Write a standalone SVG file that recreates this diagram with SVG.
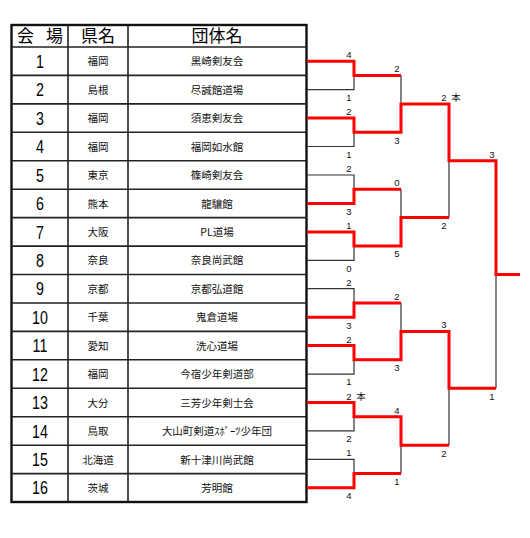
<svg xmlns="http://www.w3.org/2000/svg" width="530" height="538" viewBox="0 0 530 538">
<style>
.bg{fill:#ffffff}
.grid{stroke:#222;stroke-width:1.6;fill:none}
.outer{stroke:#111;stroke-width:2.4;fill:none}
.hd{font-family:"Noto Sans CJK JP","Noto Sans CJK SC",sans-serif;font-size:17px;text-anchor:middle;fill:#000}
.num{font-family:"Liberation Sans",Arial,sans-serif;font-size:19px;text-anchor:middle;fill:#000}
.cj{font-family:"Noto Sans CJK JP","Noto Sans CJK SC",sans-serif;font-size:10.5px;text-anchor:middle;fill:#111}
.sc{font-family:"Liberation Sans","Noto Sans CJK JP",sans-serif;font-size:9.5px;text-anchor:middle;fill:#111}
.lose{stroke:#333;stroke-width:1.2;fill:none}
.win{stroke:#ff0000;stroke-width:3;fill:none;stroke-linejoin:miter}
</style>
<rect class="bg" x="0" y="0" width="530" height="538"/>
<g id="table">
<rect class="outer" x="11.5" y="25" width="295" height="477"/>
<path class="grid" d="M68,25V502M128,25V502"/>
<path class="grid" d="M11.5,47H306.5" stroke-width="2"/>
<path class="grid" d="M11.5,75.4H306.5M11.5,103.9H306.5M11.5,132.3H306.5M11.5,160.8H306.5M11.5,189.2H306.5M11.5,217.6H306.5M11.5,246.1H306.5M11.5,274.5H306.5M11.5,303H306.5M11.5,331.4H306.5M11.5,359.8H306.5M11.5,388.3H306.5M11.5,416.7H306.5M11.5,445.2H306.5M11.5,473.6H306.5"/>
</g>
<g id="header">
<text class="hd" x="40" y="42" textLength="46" lengthAdjust="spacing">会　場</text>
<text class="hd" x="98" y="42">県名</text>
<text class="hd" x="217" y="42">団体名</text>
</g>
<g id="row1"><text class="num" transform="translate(40,67.8) scale(0.75,1)">1</text><text class="cj" x="98" y="65.3">福岡</text><text class="cj" x="217" y="65.3">黒崎剣友会</text></g>
<g id="row2"><text class="num" transform="translate(40,96.2) scale(0.75,1)">2</text><text class="cj" x="98" y="93.7">島根</text><text class="cj" x="217" y="93.7">尽誠館道場</text></g>
<g id="row3"><text class="num" transform="translate(40,124.7) scale(0.75,1)">3</text><text class="cj" x="98" y="122.2">福岡</text><text class="cj" x="217" y="122.2">須恵剣友会</text></g>
<g id="row4"><text class="num" transform="translate(40,153.1) scale(0.75,1)">4</text><text class="cj" x="98" y="150.6">福岡</text><text class="cj" x="217" y="150.6">福岡如水館</text></g>
<g id="row5"><text class="num" transform="translate(40,181.6) scale(0.75,1)">5</text><text class="cj" x="98" y="179.1">東京</text><text class="cj" x="217" y="179.1">篠崎剣友会</text></g>
<g id="row6"><text class="num" transform="translate(40,210) scale(0.75,1)">6</text><text class="cj" x="98" y="207.5">熊本</text><text class="cj" x="217" y="207.5">龍驤館</text></g>
<g id="row7"><text class="num" transform="translate(40,238.5) scale(0.75,1)">7</text><text class="cj" x="98" y="236">大阪</text><text class="cj" x="217" y="236">PL道場</text></g>
<g id="row8"><text class="num" transform="translate(40,266.9) scale(0.75,1)">8</text><text class="cj" x="98" y="264.4">奈良</text><text class="cj" x="217" y="264.4">奈良尚武館</text></g>
<g id="row9"><text class="num" transform="translate(40,295.3) scale(0.75,1)">9</text><text class="cj" x="98" y="292.8">京都</text><text class="cj" x="217" y="292.8">京都弘道館</text></g>
<g id="row10"><text class="num" transform="translate(40,323.8) scale(0.75,1)">10</text><text class="cj" x="98" y="321.3">千葉</text><text class="cj" x="217" y="321.3">鬼倉道場</text></g>
<g id="row11"><text class="num" transform="translate(40,352.2) scale(0.75,1)">11</text><text class="cj" x="98" y="349.7">愛知</text><text class="cj" x="217" y="349.7">洗心道場</text></g>
<g id="row12"><text class="num" transform="translate(40,380.7) scale(0.75,1)">12</text><text class="cj" x="98" y="378.2">福岡</text><text class="cj" x="217" y="378.2">今宿少年剣道部</text></g>
<g id="row13"><text class="num" transform="translate(40,409.1) scale(0.75,1)">13</text><text class="cj" x="98" y="406.6">大分</text><text class="cj" x="217" y="406.6">三芳少年剣士会</text></g>
<g id="row14"><text class="num" transform="translate(40,437.5) scale(0.75,1)">14</text><text class="cj" x="98" y="435">鳥取</text><text class="cj" x="217" y="435">大山町剣道ｽﾎﾟｰﾂ少年団</text></g>
<g id="row15"><text class="num" transform="translate(40,466) scale(0.75,1)">15</text><text class="cj" x="98" y="463.5">北海道</text><text class="cj" x="217" y="463.5">新十津川尚武館</text></g>
<g id="row16"><text class="num" transform="translate(40,494.4) scale(0.75,1)">16</text><text class="cj" x="98" y="491.9">茨城</text><text class="cj" x="217" y="491.9">芳明館</text></g>
<g id="connectors">
<path class="lose" d="M307,89.7H354V75.4M307,146.5H354V132.3M307,175H354V189.2M307,260.3H354V246.1M307,288.7H354V303M307,374.1H354V359.8M307,430.9H354V416.7M307,459.4H354V473.6"/>
<path class="lose" d="M401,75.4V103.9M401,189.2V217.6M401,303V331.4M401,473.6V445.2M449,217.6V160.8M449,445.2V388.3M496,388.3V274.5"/>
<path class="win" d="M307,118.1H354V132.3H401V103.9H449V160.8H496V274.5H520"/>
<path class="win" d="M307,61.2H354V75.4H401"/>
<path class="win" d="M307,203.4H354V189.2H401"/>
<path class="win" d="M307,231.9H354V246.1H401V217.6H449"/>
<path class="win" d="M307,317.2H354V303H401"/>
<path class="win" d="M307,345.6H354V359.8H401V331.4H449V388.3H496"/>
<path class="win" d="M307,402.5H354V416.7H401V445.2H449"/>
<path class="win" d="M307,487.8H354V473.6H401"/>
</g>
<g id="scores">
<text class="sc" x="349" y="58.2">4</text>
<text class="sc" x="349" y="101">1</text>
<text class="sc" x="349" y="115.1">2</text>
<text class="sc" x="349" y="157.8">1</text>
<text class="sc" x="349" y="172">2</text>
<text class="sc" x="349" y="214.7">3</text>
<text class="sc" x="349" y="228.9">1</text>
<text class="sc" x="349" y="271.6">0</text>
<text class="sc" x="349" y="285.7">2</text>
<text class="sc" x="349" y="328.5">3</text>
<text class="sc" x="349" y="342.6">2</text>
<text class="sc" x="349" y="385.4">1</text>
<text class="sc" x="349" y="399.5">2<tspan x="361">本</tspan></text>
<text class="sc" x="349" y="442.2">2</text>
<text class="sc" x="349" y="456.4">1</text>
<text class="sc" x="349" y="499.1">4</text>
<text class="sc" x="397" y="72.4">2</text>
<text class="sc" x="397" y="143.6">3</text>
<text class="sc" x="397" y="186.2">0</text>
<text class="sc" x="397" y="257.4">5</text>
<text class="sc" x="397" y="300">2</text>
<text class="sc" x="397" y="371.1">3</text>
<text class="sc" x="397" y="413.7">4</text>
<text class="sc" x="397" y="484.9">1</text>
<text class="sc" x="444" y="100.9">2<tspan x="456">本</tspan></text>
<text class="sc" x="444" y="228.9">2</text>
<text class="sc" x="444" y="328.4">3</text>
<text class="sc" x="444" y="456.5">2</text>
<text class="sc" x="492" y="157.8">3</text>
<text class="sc" x="492" y="399.6">1</text>
</g>
</svg>
